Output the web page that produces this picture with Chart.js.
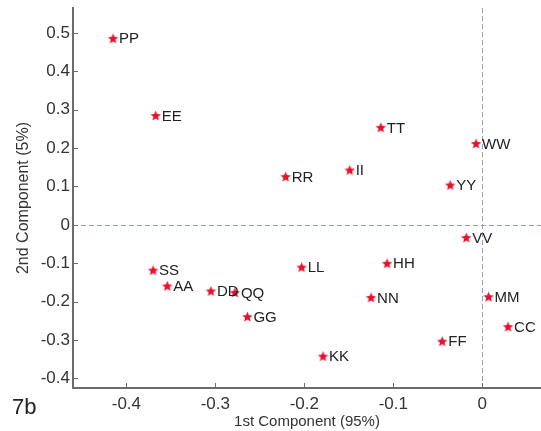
<!DOCTYPE html>
<html>
<head>
<meta charset="utf-8">
<script src="https://cdn.jsdelivr.net/npm/chart.js@4.4.0/dist/chart.umd.min.js"></script>
<style>
  html, body { margin: 0; padding: 0; background: #fff; }
  #wrap { position: relative; width: 541px; height: 431px; }
</style>
</head>
<body>
<div id="wrap"><canvas id="pcaChart" width="541" height="431"></canvas></div>
<script>
// PCA scores
const names = ['PP','EE','TT','WW','RR','II','YY','SS','AA','DD','QQ','GG','VV','LL','HH','NN','MM','CC','FF','KK'];
const pc1 = [-0.415,-0.367,-0.114,-0.007,-0.221,-0.149,-0.036,-0.370,-0.354,-0.305,-0.278,-0.264,-0.018,-0.203,-0.107,-0.125,0.007,0.029,-0.045,-0.179];
const pc2 = [0.486,0.285,0.254,0.212,0.126,0.143,0.104,-0.118,-0.159,-0.172,-0.176,-0.239,-0.033,-0.110,-0.100,-0.189,-0.187,-0.265,-0.303,-0.342];

const xTicks = [-0.4, -0.3, -0.2, -0.1, 0];
const yTicks = [0.5, 0.4, 0.3, 0.2, 0.1, 0, -0.1, -0.2, -0.3, -0.4];

const FONT = '"Liberation Sans", Arial, sans-serif';
const AXIS_COLOR = '#6b6b6b';

// filled five point star (matlab pentagram marker)
function makeStar(r, color) {
    const c = document.createElement('canvas');
    const s = Math.ceil(r * 2 + 2);
    c.width = s; c.height = s;
    const g = c.getContext('2d');
    g.fillStyle = color;
    g.beginPath();
    for (let i = 0; i < 10; i++) {
        const rad = i % 2 === 0 ? r : r * 0.45;
        const a = -Math.PI / 2 + i * Math.PI / 5;
        const px = s / 2 + rad * Math.cos(a);
        const py = s / 2 + 0.6 + rad * Math.sin(a);
        if (i === 0) g.moveTo(px, py); else g.lineTo(px, py);
    }
    g.closePath();
    g.fill();
    return c;
}

// zero lines, inward ticks, point labels, panel tag
const decorations = {
    id: 'decorations',
    beforeDatasetsDraw(chart) {
        const { ctx, chartArea: a, scales: { x, y } } = chart;
        ctx.save();
        ctx.strokeStyle = '#949be0';
        ctx.lineWidth = 1;
        ctx.setLineDash([5, 3]);
        const x0 = Math.round(x.getPixelForValue(0)) + 0.5;
        const y0 = Math.round(y.getPixelForValue(0)) + 0.5;
        ctx.beginPath();
        ctx.moveTo(x0, a.top); ctx.lineTo(x0, a.bottom);
        ctx.moveTo(a.left, y0); ctx.lineTo(a.right, y0);
        ctx.stroke();
        ctx.setLineDash([]);
        ctx.strokeStyle = AXIS_COLOR;
        ctx.lineWidth = 1;
        ctx.beginPath();
        xTicks.forEach(v => {
            const px = Math.round(x.getPixelForValue(v)) + 0.5;
            ctx.moveTo(px, a.bottom); ctx.lineTo(px, a.bottom - 5);
        });
        yTicks.forEach(v => {
            const py = Math.round(y.getPixelForValue(v)) + 0.5;
            ctx.moveTo(a.left, py); ctx.lineTo(a.left + 5, py);
        });
        ctx.stroke();
        ctx.restore();
    },
    afterDatasetsDraw(chart) {
        const { ctx } = chart;
        const meta = chart.getDatasetMeta(0);
        ctx.save();
        ctx.font = '15px ' + FONT;
        ctx.fillStyle = '#222';
        ctx.textBaseline = 'middle';
        ctx.textAlign = 'left';
        meta.data.forEach((pt, i) => {
            ctx.fillText(names[i], pt.x + 6, pt.y + 1);
        });
        ctx.font = '22px ' + FONT;
        ctx.fillStyle = '#222';
        ctx.fillText('7b', 12, 408);
        ctx.restore();
    }
};

new Chart(document.getElementById('pcaChart'), {
    type: 'scatter',
    data: {
        datasets: [{
            data: pc1.map((v, i) => ({ x: v, y: pc2[i] })),
            pointStyle: makeStar(5.5, '#e8112d'),
            pointRadius: 5,
            pointHoverRadius: 5
        }]
    },
    options: {
        responsive: false,
        animation: false,
        events: [],
        layout: { autoPadding: false, padding: { top: 8, right: 0, left: 0, bottom: 0 } },
        plugins: { legend: { display: false }, tooltip: { enabled: false } },
        scales: {
            x: {
                type: 'linear',
                min: -0.46,
                max: 0.066,
                afterBuildTicks: s => { s.ticks = xTicks.map(v => ({ value: v })); },
                afterFit: s => { s.height = 43; s.paddingLeft = 0; s.paddingRight = 0; },
                grid: { display: false, drawTicks: false },
                border: { display: true, color: AXIS_COLOR, width: 2 },
                ticks: {
                    color: '#333',
                    font: { family: FONT, size: 17 },
                    padding: 6,
                    maxRotation: 0,
                    callback: v => String(Math.round(v * 10) / 10)
                },
                title: {
                    display: true,
                    text: '1st Component (95%)',
                    color: '#333',
                    font: { family: FONT, size: 15 },
                    padding: { top: -2, bottom: 0 }
                }
            },
            y: {
                type: 'linear',
                min: -0.425,
                max: 0.565,
                afterBuildTicks: s => { s.ticks = yTicks.map(v => ({ value: v })); },
                afterFit: s => { s.width = 73; s.paddingTop = 0; s.paddingBottom = 0; },
                grid: { display: false, drawTicks: false },
                border: { display: true, color: AXIS_COLOR, width: 2 },
                ticks: {
                    color: '#333',
                    font: { family: FONT, size: 17 },
                    padding: 3,
                    callback: v => String(Math.round(v * 10) / 10)
                },
                title: {
                    display: true,
                    text: '2nd Component (5%)',
                    color: '#333',
                    font: { family: FONT, size: 16 },
                    padding: { top: 14, bottom: 2 }
                }
            }
        }
    },
    plugins: [decorations]
});
</script>
</body>
</html>
